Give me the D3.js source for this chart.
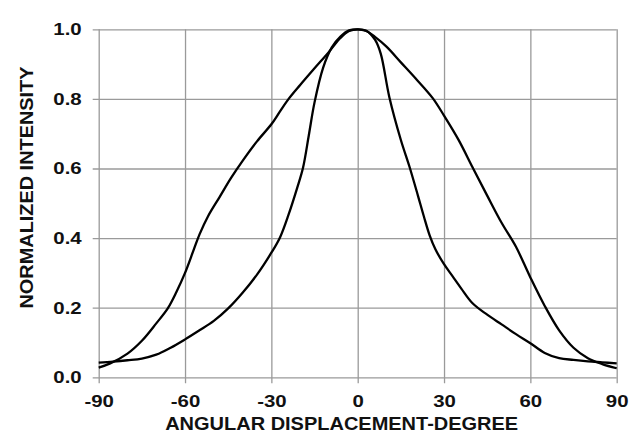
<!DOCTYPE html>
<html>
<head>
<meta charset="utf-8">
<script src="https://cdn.jsdelivr.net/npm/d3@7"></script>
<style>
  html, body { margin: 0; padding: 0; background: #fff; }
  svg { display: block; }
  text { font-family: "Liberation Sans", Arial, sans-serif; font-weight: bold; fill: #111; }
</style>
</head>
<body>
<svg id="chart" width="631" height="438"></svg>
<script>
// ---- data ----
const xTicks = [-90, -60, -30, 0, 30, 60, 90];
const yTicks = [0.0, 0.2, 0.4, 0.6, 0.8, 1.0];
const xTitle = "ANGULAR  DISPLACEMENT-DEGREE";
const yTitle = "NORMALIZED  INTENSITY";

const wideAngle = [-90, -86, -80, -75, -70, -66, -63, -60, -57, -55, -52, -48, -44, -40, -35, -30, -27, -24, -20, -15, -10, -6, -3, 0, 3, 6, 10, 15, 20, 26, 30, 35, 40, 45, 50, 55, 60, 65, 70, 75, 80, 85, 90];
const wideValue = [0.028, 0.040, 0.068, 0.105, 0.155, 0.198, 0.245, 0.300, 0.366, 0.410, 0.463, 0.518, 0.573, 0.622, 0.678, 0.727, 0.764, 0.800, 0.840, 0.888, 0.935, 0.975, 0.995, 1.000, 0.995, 0.978, 0.950, 0.905, 0.860, 0.803, 0.752, 0.683, 0.602, 0.522, 0.444, 0.375, 0.287, 0.205, 0.135, 0.085, 0.055, 0.038, 0.026];

const narrowAngle = [-90, -85, -80, -75, -70, -65, -60, -55, -50, -45, -40, -35, -30, -27, -24, -21, -19, -17, -15, -12, -9, -6, -3, 0, 3, 6, 8, 11, 15, 18, 21, 23, 25, 27, 30, 33, 36, 40, 45, 50, 55, 60, 65, 70, 75, 80, 85, 90];
const narrowValue = [0.042, 0.045, 0.049, 0.054, 0.065, 0.085, 0.109, 0.135, 0.162, 0.198, 0.243, 0.295, 0.358, 0.402, 0.468, 0.545, 0.602, 0.695, 0.790, 0.890, 0.948, 0.979, 0.997, 1.000, 0.996, 0.970, 0.930, 0.805, 0.682, 0.605, 0.520, 0.462, 0.408, 0.368, 0.325, 0.290, 0.255, 0.212, 0.180, 0.152, 0.124, 0.098, 0.070, 0.055, 0.050, 0.046, 0.043, 0.040];

// ---- layout ----
const svg = d3.select("#chart");
const mLeft = 98.7, mRight = 616.7, mTop = 29.3, mBottom = 377.3;
const tickOut = 6;

const x = d3.scaleLinear().domain([-90, 90]).range([mLeft, mRight]);
const y = d3.scaleLinear().domain([0, 1]).range([mBottom, mTop]);

const stretch = 1.2;
function widen(sel) {
  sel.each(function () {
    const w = this.getComputedTextLength();
    d3.select(this).attr("textLength", w * stretch).attr("lengthAdjust", "spacingAndGlyphs");
  });
}

// x axis + vertical grid
const gx = svg.append("g")
  .attr("transform", `translate(0,${mBottom + tickOut})`)
  .call(d3.axisBottom(x).tickValues(xTicks).tickFormat(d3.format("d"))
    .tickSize(-(mBottom - mTop + tickOut)).tickPadding(12));
gx.select(".domain").remove();
gx.selectAll(".tick line").attr("stroke", "#9a9a9a").attr("stroke-width", 1.3);
gx.selectAll(".tick text").attr("font-size", 17).attr("fill", "#111")
  .attr("font-family", "Liberation Sans, Arial, sans-serif").attr("font-weight", "bold")
  .text(d => d < 0 ? "-" + Math.abs(d) : String(d))
  .call(widen);

// y axis + horizontal grid
const gy = svg.append("g")
  .attr("transform", `translate(${mLeft - tickOut},0)`)
  .call(d3.axisLeft(y).tickValues(yTicks).tickFormat(d3.format(".1f"))
    .tickSize(-(mRight - mLeft + tickOut)).tickPadding(11));
gy.select(".domain").remove();
gy.selectAll(".tick line").attr("stroke", "#9a9a9a").attr("stroke-width", 1.3);
gy.selectAll(".tick text").attr("font-size", 17).attr("fill", "#111")
  .attr("font-family", "Liberation Sans, Arial, sans-serif").attr("font-weight", "bold")
  .call(widen);

// curves
const line = d3.line().x(d => x(d[0])).y(d => y(d[1])).curve(d3.curveCatmullRom.alpha(0.5));
const wide = wideAngle.map((a, i) => [a, wideValue[i]]);
const narrow = narrowAngle.map((a, i) => [a, narrowValue[i]]);

svg.append("path").datum(wide).attr("d", line)
  .attr("fill", "none").attr("stroke", "#000").attr("stroke-width", 2.3).attr("stroke-linejoin", "round");
svg.append("path").datum(narrow).attr("d", line)
  .attr("fill", "none").attr("stroke", "#000").attr("stroke-width", 2.3).attr("stroke-linejoin", "round");

// titles
svg.append("text")
  .attr("x", 341.7).attr("y", 429.5)
  .attr("text-anchor", "middle").attr("font-size", 18)
  .attr("textLength", 353).attr("lengthAdjust", "spacingAndGlyphs")
  .text(xTitle);

svg.append("text")
  .attr("transform", "translate(33.3,187.5) rotate(-90)")
  .attr("text-anchor", "middle").attr("font-size", 18.5)
  .attr("textLength", 242).attr("lengthAdjust", "spacingAndGlyphs")
  .text(yTitle);
</script>
</body>
</html>
